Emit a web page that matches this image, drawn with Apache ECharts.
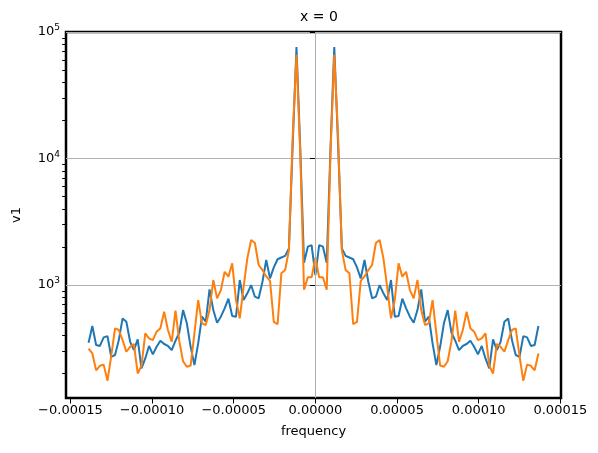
<!DOCTYPE html>
<html>
<head>
<meta charset="utf-8">
<script src="https://cdn.jsdelivr.net/npm/echarts@6/dist/echarts.min.js"></script>
<style>
  html, body { margin: 0; padding: 0; background: #fff; }
  #chart { width: 598px; height: 453px; }
</style>
</head>
<body>
<div id="chart"></div>
<script>
// 120 hourly samples -> frequency bins k = -60 .. 59, step 1 / (120 * 3600 s)
const nSamples = 120
const sampleStep = 3600
const binIndex = []
for (let k = -nSamples / 2; k < nSamples / 2; k++) binIndex.push(k)

// spectrum magnitudes, one per bin
const blueVals = [
  350, 474, 336, 330, 386, 395, 271, 280, 367, 545,
  513, 356, 306, 372, 219, 263, 330, 283, 325, 363,
  342, 330, 306, 363, 420, 634, 498, 325, 233, 346,
  562, 513, 925, 634, 504, 562, 655, 780, 569, 562,
  1095, 761, 860, 1000, 809, 785, 1062, 1578, 1130, 1380,
  1600, 1650, 1700, 1950, 13000, 76000, 12000, 1500, 2010, 2070,
  1200,
  2070, 2010, 1500, 12000, 76000, 13000, 1950, 1700, 1650, 1600,
  1380, 1130, 1578, 1062, 785, 809, 1000, 860, 761, 1095,
  562, 569, 780, 655, 562, 504, 634, 925, 513, 562,
  346, 233, 325, 498, 634, 420, 363, 306, 330, 342,
  363, 325, 283, 330, 263, 219, 372, 306, 356, 513,
  545, 367, 280, 271, 395, 386, 330, 336, 474
]
const orangeVals = [
  314, 288, 212, 230, 235, 175, 275, 455, 441, 367,
  297, 325, 342, 200, 230, 415, 379, 367, 428, 455,
  615, 441, 356, 627, 360, 250, 226, 231, 415, 761,
  498, 483, 634, 1095, 785, 913, 1274, 1164, 1484, 761,
  545, 959, 1624, 2270, 2150, 1440, 1314, 1170, 1080, 512,
  490, 1237, 1314, 1890, 15000, 66000, 11000, 920, 1150, 1150,
  1650,
  1150, 1150, 920, 11000, 66000, 15000, 1890, 1314, 1237, 490,
  512, 1080, 1170, 1314, 1440, 2150, 2270, 1624, 959, 545,
  761, 1484, 1164, 1274, 913, 785, 1095, 634, 483, 498,
  761, 415, 231, 226, 250, 360, 627, 356, 441, 615,
  455, 428, 367, 379, 415, 230, 200, 342, 325, 297,
  367, 441, 455, 275, 175, 235, 230, 212, 288
]

const xTicks = [-0.00015, -0.0001, -0.00005, 0, 0.00005, 0.0001, 0.00015]
const yTicks = [1000, 10000, 100000]
const yMinorTicks = [200, 300, 400, 500, 600, 700, 800, 900,
  2000, 3000, 4000, 5000, 6000, 7000, 8000, 9000,
  20000, 30000, 40000, 50000, 60000, 70000, 80000, 90000]

const freq = binIndex.map(k => k / (nSamples * sampleStep))
const toPairs = vals => freq.map((f, i) => [f, vals[i]])

const font = 'DejaVu Sans'
const chart = echarts.init(document.getElementById('chart'))
chart.setOption({
  animation: false,
  textStyle: { fontFamily: font },
  title: {
    text: 'x = 0',
    left: 314,
    top: 5,
    textAlign: 'center',
    textStyle: { fontFamily: font, fontSize: 14, fontWeight: 'normal', color: '#000' }
  },
  grid: {
    left: 66,
    right: 37,
    top: 32,
    bottom: 55,
    show: true,
    borderColor: '#000',
    borderWidth: 2.5,
    backgroundColor: 'transparent'
  },
  xAxis: {
    type: 'value',
    min: -0.0001527,
    max: 0.0001504,
    name: 'frequency',
    nameLocation: 'middle',
    nameGap: 27,
    nameTextStyle: { fontFamily: font, fontSize: 13, color: '#000' },
    axisLine: { show: false },
    axisTick: { show: true, customValues: xTicks, length: 5.5, lineStyle: { color: '#000', width: 1 } },
    axisLabel: {
      customValues: xTicks,
      color: '#000',
      fontSize: 13,
      margin: 6,
      formatter: v => (v < 0 ? '\u2212' : '') + Math.abs(v).toFixed(5)
    },
    splitLine: { show: false }
  },
  yAxis: [
    {
      type: 'log',
      logBase: 10,
      min: 128,
      max: 100000,
      name: 'v1',
      nameLocation: 'middle',
      nameGap: 43,
      nameRotate: 90,
      nameTextStyle: { fontFamily: font, fontSize: 13, color: '#000' },
      axisLine: { show: false },
      axisTick: { show: true, customValues: yTicks, length: 5.5, lineStyle: { color: '#000', width: 1 } },
      axisLabel: {
        customValues: yTicks,
        color: '#000',
        fontSize: 13,
        margin: 6,
        formatter: v => '10{sup|' + Math.round(Math.log10(v)) + '}',
        rich: {
          sup: { fontSize: 9, verticalAlign: 'bottom', padding: [0, 0, 8, 0], color: '#000' }
        }
      },
      splitLine: { show: true, lineStyle: { color: '#b0b0b0', width: 1 } }
    },
    {
      type: 'log',
      logBase: 10,
      min: 128,
      max: 100000,
      position: 'left',
      axisLine: { show: false },
      axisTick: { show: true, customValues: yMinorTicks, length: 3.8, lineStyle: { color: '#000', width: 1 } },
      axisLabel: { show: false },
      splitLine: { show: false }
    }
  ],
  series: [
    {
      name: 'grid',
      type: 'line',
      data: [],
      silent: true,
      z: 1,
      markLine: {
        symbol: 'none',
        silent: true,
        animation: false,
        label: { show: false },
        lineStyle: { color: '#b0b0b0', width: 1, type: 'solid' },
        data: xTicks.map(v => ({ xAxis: v }))
      }
    },
    {
      name: 'blue',
      type: 'line',
      data: toPairs(blueVals),
      showSymbol: false,
      z: 3,
      lineStyle: { color: '#1f77b4', width: 2 },
      itemStyle: { color: '#1f77b4' }
    },
    {
      name: 'orange',
      type: 'line',
      data: toPairs(orangeVals),
      showSymbol: false,
      z: 4,
      lineStyle: { color: '#ff7f0e', width: 2 },
      itemStyle: { color: '#ff7f0e' }
    }
  ]
})
</script>
</body>
</html>
